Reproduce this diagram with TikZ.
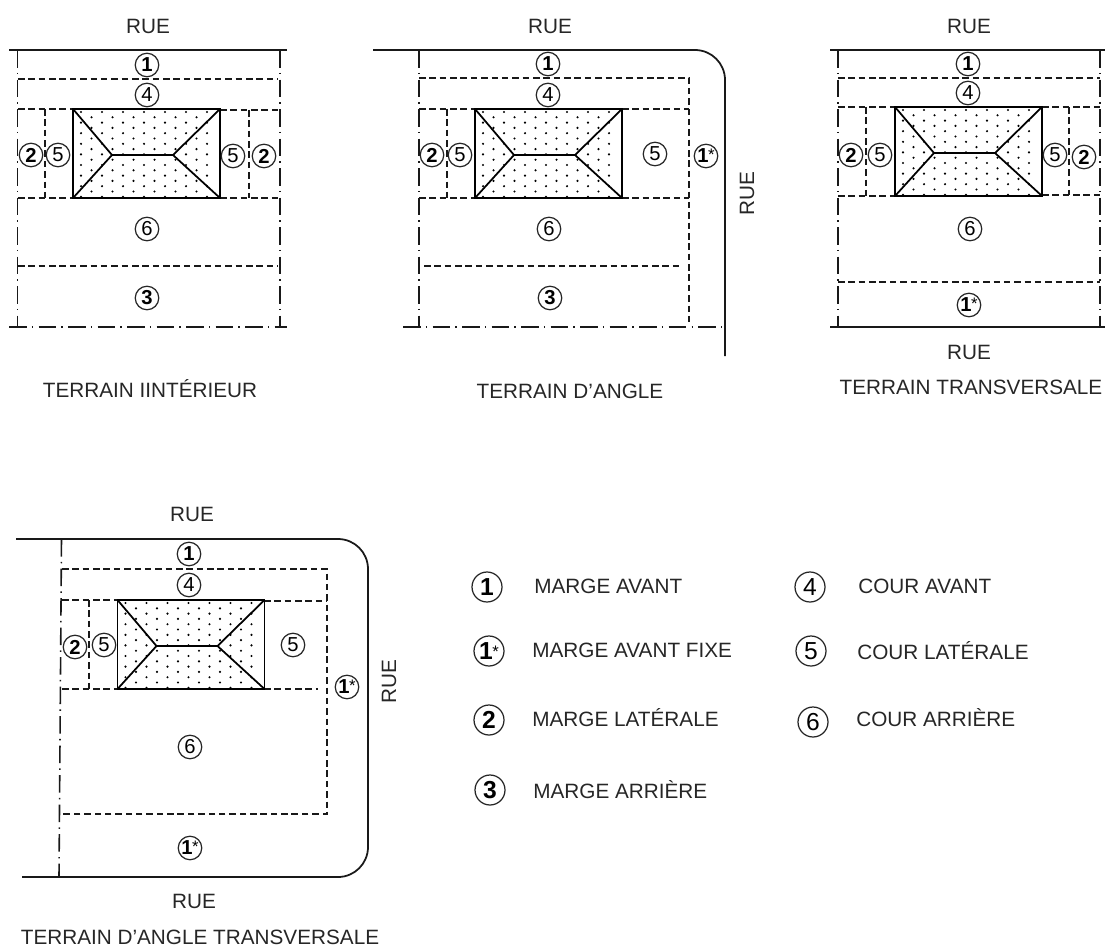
\documentclass[tikz,border=0pt]{standalone}
\usepackage{fontspec}
\setmainfont{Liberation Sans}
\tikzset{
	rue/.style={black!90,line width=1pt},
	lot/.style={black!90,line width=0.9pt,dash pattern=on 10pt off 3pt on 0.8pt off 3pt},
	marge/.style={black!90,line width=0.85pt,dash pattern=on 3.7pt off 2.2pt},
	toit/.style={black,line width=1pt},
	num/.style={circle,draw=black!85,line width=0.7pt,fill=white,inner sep=0pt,minimum size=23.5*0.02cm,font=\fontsize{11.5}{12}\selectfont},
	cle/.style={num,minimum size=30*0.02cm,font=\fontsize{14}{15}\selectfont},
	txt/.style={inner sep=0pt,text=black!85,font=\fontsize{11.8}{13}\selectfont},
	leg/.style={txt,anchor=west}
}
% 1 avec etoile
\newcommand{\unetoile}{\bfseries 1\kern-0.3pt{\mdseries\fontsize{9.5}{9.5}\selectfont\raisebox{1.2pt}{*}}}
% maison : coin haut gauche (#1,#2)
\newcommand{\maison}[2]{
	\begin{scope}[shift={(#1,#2)}]
		\foreach \r in {0,2,...,16}
			\foreach \c in {0,...,6}
				\fill[black] (8+21*\c,3+5.3*\r) circle (1.2);
		\foreach \r in {1,3,...,15}
			\foreach \c in {0,...,5}
				\fill[black] (18.5+21*\c,3+5.3*\r) circle (1.2);
		\draw[toit] (0,0) rectangle (147,89);
		\draw[toit] (0,0) -- (39,46) -- (100,46) -- (147,0);
		\draw[toit] (0,89) -- (39,46);
		\draw[toit] (100,46) -- (147,89);
	\end{scope}
}
\begin{document}
\begin{tikzpicture}[x=0.02cm,y=-0.02cm]
	\useasboundingbox (0,0) rectangle (1105,946);

	% terrain interieur
	\draw[rue] (9,50) -- (287,50);
	\draw[lot] (17.5,50) -- (17.5,327);
	\draw[lot] (280,50) -- (280,327);
	\draw[lot] (9,327) -- (287,327);
	\draw[marge] (18,79) -- (278,79);
	\draw[marge] (18,109) -- (73,109);
	\draw[marge] (220,110) -- (278,110);
	\draw[marge] (18,198) -- (73,198);
	\draw[marge] (220,198) -- (278,198);
	\draw[marge] (45,109) -- (45,198);
	\draw[marge] (249,110) -- (249,198);
	\draw[marge] (18,266) -- (278,266);
	\maison{73}{109}
	\node[num] at (147,65) (a1) {\bfseries 1};
	\node[num] at (147,95) (a4) {4};
	\node[num] at (31,155) (a2) {\bfseries 2};
	\node[num] at (58,155) (a5) {5};
	\node[num] at (233,156) (a5b) {5};
	\node[num] at (264,156) (a2b) {\bfseries 2};
	\node[num] at (147,229) (a6) {6};
	\node[num] at (147,298) (a3) {\bfseries 3};
	\node[txt] at (148,26) (arue) {RUE};
	\node[txt] at (150,389) (atitre) {TERRAIN IINTÉRIEUR};

	% terrain d'angle
	\draw[rue] (373,50) -- (695,50) arc (-90:0:30) -- (725,356);
	\draw[lot] (419,50) -- (419,327);
	\draw[lot] (403,327) -- (724,327);
	\draw[marge] (419,78) -- (689,78) -- (689,323);
	\draw[marge] (419,109) -- (475,109);
	\draw[marge] (622,109) -- (689,109);
	\draw[marge] (419,198) -- (475,198);
	\draw[marge] (622,198) -- (689,198);
	\draw[marge] (447,109) -- (447,198);
	\draw[marge] (424,266) -- (680,266);
	\maison{475}{109}
	\node[num] at (548,64) (b1) {\bfseries 1};
	\node[num] at (548,95) (b4) {4};
	\node[num] at (432,155) (b2) {\bfseries 2};
	\node[num] at (460,155) (b5) {5};
	\node[num] at (655,154) (b5b) {5};
	\node[num] at (706,156) (b1e) {\unetoile};
	\node[num] at (549,229) (b6) {6};
	\node[num] at (550,298) (b3) {\bfseries 3};
	\node[txt] at (550,26) (brue) {RUE};
	\node[txt,rotate=90] at (747,194) (brue2) {RUE};
	\node[txt] at (570,391) (btitre) {TERRAIN D’ANGLE};

	% terrain transversale
	\draw[rue] (830,50) -- (1105,50);
	\draw[rue] (830,327) -- (1105,327);
	\draw[lot] (838,50) -- (838,327);
	\draw[lot] (1100,50) -- (1100,327);
	\draw[marge] (838,78) -- (1100,78);
	\draw[marge] (838,107) -- (895,107);
	\draw[marge] (1042,107) -- (1100,107);
	\draw[marge] (838,196) -- (895,196);
	\draw[marge] (1042,195) -- (1100,195);
	\draw[marge] (866,107) -- (866,196);
	\draw[marge] (1069,107) -- (1069,195);
	\draw[marge] (838,282) -- (1100,282);
	\maison{895}{107}
	\node[num] at (968,64) (c1) {\bfseries 1};
	\node[num] at (968,93) (c4) {4};
	\node[num] at (851,155) (c2) {\bfseries 2};
	\node[num] at (880,155) (c5) {5};
	\node[num] at (1055,155) (c5b) {5};
	\node[num] at (1084,157) (c2b) {\bfseries 2};
	\node[num] at (970,229) (c6) {6};
	\node[num] at (969,305) (c1e) {\unetoile};
	\node[txt] at (969,26) (crue) {RUE};
	\node[txt] at (969,352) (crue2) {RUE};
	\node[txt] at (971,387) (ctitre) {TERRAIN TRANSVERSALE};

	% terrain d'angle transversale
	\draw[rue] (16,539) -- (338,539) arc (-90:0:30) -- (368,847) arc (0:90:30) -- (22,877);
	\draw[lot] (61.5,539) -- (59,877);
	\draw[marge] (62,569) -- (327,569) -- (327,814) -- (60,814);
	\draw[marge] (62,600) -- (118,600);
	\draw[marge] (264,601) -- (327,601);
	\draw[marge] (62,689) -- (118,689);
	\draw[marge] (264,689) -- (318,689);
	\draw[marge] (89,600) -- (89,689);
	\maison{117.5}{600}
	\node[num] at (189,554) (d1) {\bfseries 1};
	\node[num] at (189,585) (d4) {4};
	\node[num] at (75,647) (d2) {\bfseries 2};
	\node[num] at (104,645) (d5) {5};
	\node[num] at (293,645) (d5b) {5};
	\node[num] at (347,687) (d1e) {\unetoile};
	\node[num] at (190,747) (d6) {6};
	\node[num] at (190,848) (d1f) {\unetoile};
	\node[txt] at (192,514) (drue) {RUE};
	\node[txt,rotate=90] at (389,682) (drue2) {RUE};
	\node[txt] at (194,901) (drue3) {RUE};
	\node[txt] at (200,937) (dtitre) {TERRAIN D’ANGLE TRANSVERSALE};

	% legende
	\node[cle] at (487,587) (k1) {\bfseries 1};
	\node[cle] at (489,651) (k1e) {\unetoile};
	\node[cle] at (489,720) (k2) {\bfseries 2};
	\node[cle] at (490,790) (k3) {\bfseries 3};
	\node[cle] at (810,587) (k4) {4};
	\node[cle] at (811,651) (k5) {5};
	\node[cle] at (813,722) (k6) {6};
	\node[leg] at (534,586) (l1) {MARGE AVANT};
	\node[leg] at (532,650) (l1e) {MARGE AVANT FIXE};
	\node[leg] at (532,718) (l2) {MARGE LATÉRALE};
	\node[leg] at (533,790) (l3) {MARGE ARRIÈRE};
	\node[leg] at (858,586) (l4) {COUR AVANT};
	\node[leg] at (857,651) (l5) {COUR LATÉRALE};
	\node[leg] at (856,718) (l6) {COUR ARRIÈRE};
\end{tikzpicture}
\end{document}
